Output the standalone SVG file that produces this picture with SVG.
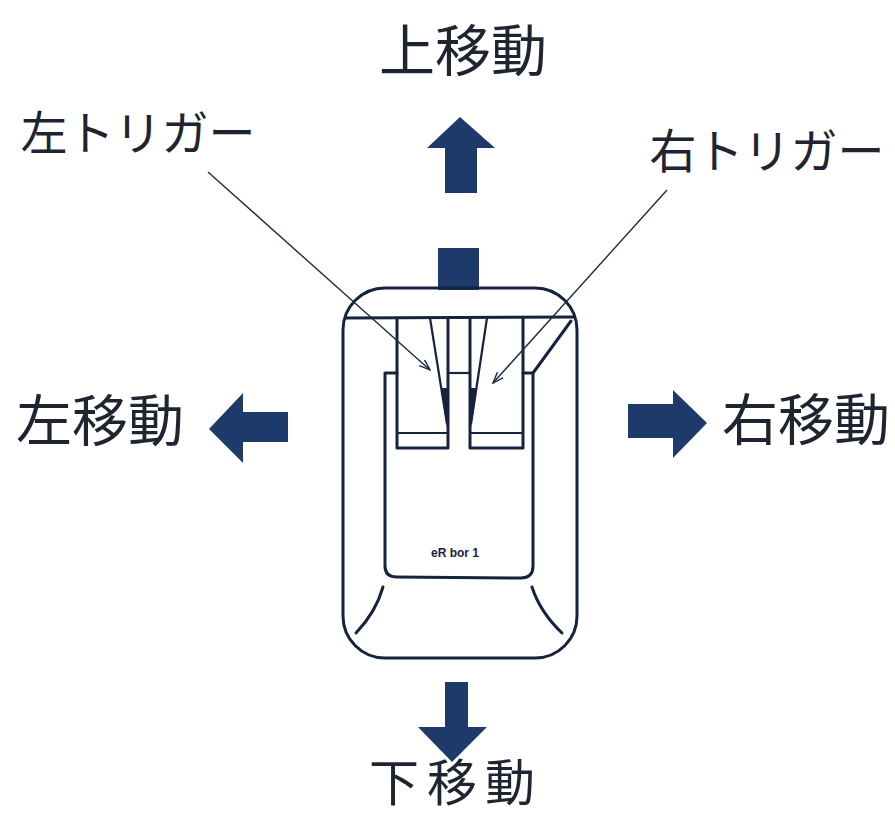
<svg xmlns="http://www.w3.org/2000/svg" width="895" height="816" viewBox="0 0 895 816">
  <style>
    .label { font-family: "Noto Sans CJK JP", "Noto Sans", sans-serif; font-weight: 400; fill: #1e2430; }
    .big { font-size: 56px; }
    .mid { font-size: 47px; }
    .ink { fill: none; stroke: #16233f; stroke-width: 3; stroke-linejoin: round; stroke-linecap: round; }
    .thin { fill: none; stroke: #16233f; stroke-width: 2.2; }
    .arrow { fill: #1d3a6b; }
    .leader { fill: none; stroke: #1c2a44; stroke-width: 1.4; }
  </style>
  <defs>
    <marker id="tip" viewBox="0 0 12 10" refX="11" refY="5" markerWidth="12" markerHeight="10" markerUnits="userSpaceOnUse" orient="auto">
      <path d="M0,1 L11,5 L0,9" fill="none" stroke="#1c2a44" stroke-width="1.4"/>
    </marker>
  </defs>

  <rect width="895" height="816" fill="#ffffff"/>

  <!-- controller body -->
  <g id="controller">
    <rect class="arrow" x="438" y="248" width="41" height="42"/>
    <rect class="ink" x="343" y="288" width="234" height="370" rx="42" ry="42"/>
    <!-- top band -->
    <path class="ink" d="M346,318 L574,317"/>
    <!-- left trigger -->
    <path class="ink" d="M397,318 L397,448 L448,448 L448,318"/>
    <path class="thin" d="M397,433 L448,433"/>
    <path class="thin" d="M430,318 L447,424"/>
    <path fill="#16233f" d="M441,388 L447,388 L447,428 Z"/>
    <!-- right trigger -->
    <path class="ink" d="M470,318 L470,448 L523,448 L523,318"/>
    <path class="thin" d="M470,433 L523,433"/>
    <path class="thin" d="M487,318 L471,424"/>
    <path fill="#16233f" d="M471,388 L477,388 L471,428 Z"/>
    <!-- bridge between triggers -->
    <path class="thin" d="M448,373 L470,373"/>
    <!-- inner panel -->
    <path class="ink" d="M397,373 L385,373 L385,566 Q385,577 397,577 L521,578 Q533,578 533,566 L533,373 L523,373"/>
    <path class="ink" d="M533,373 L571,321"/>
    <text x="455" y="557" font-family="Liberation Sans, sans-serif" font-weight="bold" font-size="12" fill="#16233f" text-anchor="middle">eR bor 1</text>
    <!-- lower corner grips -->
    <path class="ink" d="M383,587 Q376,612 356,633"/>
    <path class="ink" d="M532,587 Q540,612 562,633"/>
  </g>

  <!-- direction arrows -->
  <g id="arrow-up">
    <path class="arrow" d="M460,117 L495,148 L477,148 L477,193 L445,193 L445,148 L427,148 Z"/>
  </g>
  <g id="arrow-down">
    <path class="arrow" d="M445,682 L468,682 L468,727 L487,727 L452,762 L418,727 L445,727 Z"/>
  </g>
  <g id="arrow-left">
    <path class="arrow" d="M209,429 L243,393 L243,412 L288,412 L288,442 L243,442 L243,463 Z"/>
  </g>
  <g id="arrow-right">
    <path class="arrow" d="M707,423 L673,390 L673,404 L628,404 L628,438 L673,438 L673,458 Z"/>
  </g>

  <!-- labels -->
  <g id="label-up"><text class="label big" x="463" y="71" text-anchor="middle">上移動</text></g>
  <g id="label-down"><text class="label" x="456" y="801" font-size="50" text-anchor="middle" letter-spacing="8">下移動</text></g>
  <g id="label-left"><text class="label big" x="100" y="441" text-anchor="middle">左移動</text></g>
  <g id="label-right"><text class="label big" x="806" y="440" text-anchor="middle">右移動</text></g>
  <g id="label-ltrigger"><text class="label mid" x="138" y="150" text-anchor="middle">左トリガー</text></g>
  <g id="label-rtrigger"><text class="label mid" x="767" y="168" text-anchor="middle">右トリガー</text></g>

  <!-- leader lines -->
  <g id="connectors">
    <path class="leader" d="M208,172 L430,370" marker-end="url(#tip)"/>
    <path class="leader" d="M667,190 L493,383" marker-end="url(#tip)"/>
  </g>
</svg>
